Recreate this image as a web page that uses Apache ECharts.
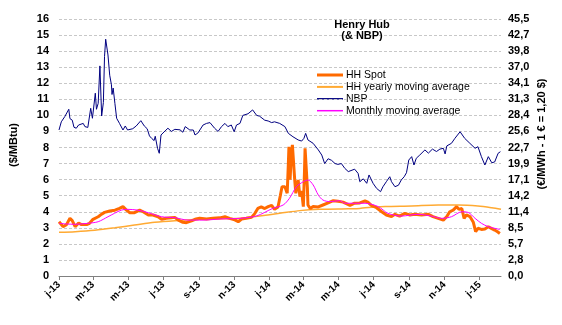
<!DOCTYPE html>
<html>
<head>
<meta charset="utf-8">
<script src="https://cdn.jsdelivr.net/npm/echarts@6/dist/echarts.min.js"></script>
<style>html,body{margin:0;padding:0;background:#fff}#c{width:562px;height:325px}</style>
</head>
<body>
<div id="c"></div>
<script>
// x values are days since 2013-01-01
const monthTickDays = [0, 59, 120, 181, 243, 304, 365, 424, 485, 546, 608, 669, 730];
const monthTickLabels = ['j-13','m-13','m-13','j-13','s-13','n-13','j-14','m-14','m-14','j-14','s-14','n-14','j-15'];
const rightTickLabels = ['0,0','2,8','5,7','8,5','11,4','14,2','17,1','19,9','22,7','25,6','28,4','31,3','34,1','37,0','39,8','42,7','45,5'];
const seriesNames = ['HH Spot', 'HH yearly moving average', 'NBP', 'Monthly moving average'];

const nbpDays = [0,4,10,13,17,19,23,26,30,34,42,45,50,55,58,60,63,65,68,71,74,77,79,81,85,88,91,92,94,97,100,105,111,115,119,128,134,142,148,153,157,161,165,167,171,174,177,184,189,195,201,210,215,219,227,233,236,241,250,256,262,270,276,282,288,293,299,304,308,314,319,328,336,343,348,357,363,369,374,383,392,398,406,415,421,425,428,432,441,450,456,461,467,473,479,484,490,496,502,505,513,519,522,528,534,538,545,551,558,562,568,574,577,583,589,594,599,603,607,612,616,620,626,635,641,648,655,661,667,670,673,681,687,696,704,713,722,727,733,739,745,751,756,762,766];
const nbpValues = [9.09,9.6,9.92,9.8,10.38,9.8,9.7,9.26,9.2,9.4,9.5,9.3,9.25,10.44,9.82,9.7,11.38,10.38,10.75,13.08,9.96,10.8,13.66,14.74,13.76,12.5,11.9,11.3,11.7,10.75,9.82,9.5,9.09,9.34,9.09,9.17,9.34,9.67,9.34,9.17,8.72,8.56,8.43,8.7,7.95,7.64,8.78,9.03,9.2,9.0,9.13,9.1,8.95,9.3,9.09,9.09,8.78,8.9,9.4,9.5,9.55,9.2,9.0,9.3,9.5,9.3,9.4,8.98,9.4,9.5,10.0,10.1,10.34,10.0,9.95,9.7,9.65,9.55,9.6,9.5,9.3,8.88,8.67,8.47,8.4,8.57,8.88,8.47,8.26,7.85,7.53,7.0,7.3,7.2,7.0,6.95,7.0,6.7,6.5,6.6,6.65,6.39,5.87,6.05,5.77,6.29,5.77,5.46,5.25,5.55,5.87,6.18,5.87,5.56,5.65,5.98,6.18,6.43,7.22,7.43,6.91,7.33,7.53,7.85,7.65,7.9,7.75,7.9,7.95,7.6,8.1,8.26,8.57,8.98,8.57,8.26,7.95,8.05,7.43,6.91,7.43,7.05,7.1,7.64,7.74];

const hhDays = [0,3,7,13,19,23,28,34,39,48,53,59,68,74,79,88,97,105,111,117,123,131,140,146,155,163,172,178,186,195,201,207,215,221,230,236,244,256,267,279,288,296,305,311,317,325,334,340,345,351,357,363,369,374,380,384,387,392,396,398,399,401,403,405,407,409,411,415,418,421,424,426,427,429,431,432,436,441,450,458,467,476,484,493,496,505,513,522,531,536,542,551,560,568,577,583,591,600,609,617,629,641,649,658,667,673,678,684,690,694,699,703,707,713,719,723,727,733,739,745,751,756,761,765];
const hhValues = [3.38,3.25,3.07,3.2,3.59,3.45,3.07,3.3,3.2,3.2,3.28,3.53,3.69,3.85,3.96,4.05,4.1,4.21,4.32,4.1,3.94,3.94,4.1,4.0,3.8,3.8,3.69,3.53,3.6,3.63,3.65,3.48,3.34,3.32,3.43,3.53,3.59,3.55,3.59,3.62,3.69,3.59,3.49,3.38,3.55,3.59,3.65,3.9,4.21,4.3,4.2,4.32,4.4,4.15,4.3,5.0,5.56,5.56,5.15,7.0,8.05,6.0,7.5,8.16,8.05,6.0,5.15,5.98,4.94,5.3,4.32,6.5,7.95,7.9,5.5,4.42,4.2,4.32,4.3,4.42,4.55,4.69,4.65,4.6,4.53,4.4,4.53,4.55,4.67,4.6,4.4,4.25,4.0,3.8,3.7,3.84,3.73,3.9,3.8,3.84,3.8,3.84,3.7,3.59,3.48,3.7,4.0,4.1,4.32,4.15,4.2,3.59,3.8,3.7,3.34,2.76,2.97,2.9,2.93,3.07,2.95,2.86,2.75,2.65];

const yearlyDays = [0,28,62,97,131,166,201,250,314,348,383,418,452,502,522,531,566,612,658,693,727,751,767];
const yearlyValues = [2.72,2.76,2.85,3.0,3.17,3.34,3.44,3.53,3.59,3.74,3.9,4.07,4.15,4.19,4.21,4.25,4.32,4.36,4.42,4.42,4.36,4.25,4.15];

const monthlyDays = [0,13,28,50,68,85,108,119,137,155,178,201,224,250,280,314,343,371,389,400,412,424,432,441,450,458,470,487,496,531,554,571,594,623,646,664,681,699,710,722,733,745,756,765];
const monthlyValues = [3.28,3.24,3.22,3.28,3.38,3.69,4.1,4.15,4.1,3.94,3.69,3.63,3.48,3.48,3.55,3.59,3.74,4.21,4.42,4.84,5.56,5.87,5.98,5.67,5.04,4.73,4.63,4.69,4.53,4.53,4.32,3.9,3.73,3.84,3.73,3.59,3.69,4.0,3.96,3.59,3.28,3.07,2.97,2.9];

function pairs(xs, ys) { return xs.map((x, i) => [x, ys[i]]); }

const FONT = '"Liberation Sans", Arial, sans-serif';
const styles = {
  'HH Spot': {color: '#FF6A00', width: 3},
  'HH yearly moving average': {color: '#FFAA33', width: 1.5},
  'NBP': {color: '#000080', width: 1},
  'Monthly moving average': {color: '#FF00FF', width: 1}
};

// legend drawn as graphic lines + text
const legendGraphics = [];
seriesNames.forEach((name, i) => {
  const y = 75 + i * 11.9;
  const s = styles[name];
  legendGraphics.push({
    type: 'line', shape: {x1: 317, y1: y, x2: 343, y2: y},
    style: {stroke: s.color, lineWidth: name === 'HH Spot' ? 3 : (name === 'HH yearly moving average' ? 2 : 1.5)}
  });
  legendGraphics.push({
    type: 'text', x: 346, y: y,
    style: {text: name, fontFamily: FONT, fontSize: 10.5, fill: '#000', textAlign: 'left', textVerticalAlign: 'middle'}
  });
});

const chart = echarts.init(document.getElementById('c'), null, {renderer: 'canvas'});
chart.setOption({
  animation: false,
  backgroundColor: '#ffffff',
  grid: {left: 59, right: 61, top: 19, bottom: 49, containLabel: false},
  title: {
    text: 'Henry Hub\n(& NBP)', left: 357, top: 14, textAlign: 'center',
    textStyle: {fontFamily: FONT, fontSize: 11, fontWeight: 'bold', color: '#000', lineHeight: 11}
  },
  xAxis: {
    type: 'value', min: 0, max: 767,
    axisLine: {show: true, lineStyle: {color: '#808080', width: 1}},
    axisTick: {show: true, customValues: monthTickDays, length: 4, lineStyle: {color: '#808080'}},
    axisLabel: {
      customValues: monthTickDays, rotate: 45, margin: 7,
      fontFamily: FONT, fontSize: 10, fontWeight: 'bold', color: '#000',
      formatter: v => { const i = monthTickDays.indexOf(Math.round(v)); return i >= 0 ? monthTickLabels[i] : ''; }
    },
    splitLine: {show: false}
  },
  yAxis: [{
    type: 'value', min: 0, max: 16, interval: 1, position: 'left',
    axisLine: {show: false}, axisTick: {show: false},
    axisLabel: {margin: 10, fontFamily: FONT, fontSize: 11, fontWeight: 'bold', color: '#000'},
    splitLine: {show: true, lineStyle: {color: '#C8C8C8', type: [3, 2], width: 1}}
  }, {
    type: 'value', min: 0, max: 45.5, interval: 2.84375, position: 'right',
    axisLine: {show: false}, axisTick: {show: false},
    axisLabel: {margin: 7, fontFamily: FONT, fontSize: 11, fontWeight: 'bold', color: '#000',
      formatter: v => rightTickLabels[Math.round(v / 2.84375)] || ''},
    splitLine: {show: false}
  }],
  graphic: [{
    type: 'text', x: 14, y: 145, rotation: Math.PI / 2,
    style: {text: '($/MBtu)', fontFamily: FONT, fontSize: 11, fontWeight: 'bold', fill: '#000', textAlign: 'center', textVerticalAlign: 'middle'}
  }, {
    type: 'text', x: 542, y: 134, rotation: Math.PI / 2,
    style: {text: '(€/MWh - 1 € = 1,20 $)', fontFamily: FONT, fontSize: 11, fontWeight: 'bold', fill: '#000', textAlign: 'center', textVerticalAlign: 'middle'}
  }].concat(legendGraphics),
  series: [{
    name: 'NBP', type: 'line', data: pairs(nbpDays, nbpValues), symbol: 'none', z: 2,
    lineStyle: {color: styles['NBP'].color, width: styles['NBP'].width}
  }, {
    name: 'HH yearly moving average', type: 'line', data: pairs(yearlyDays, yearlyValues), symbol: 'none', smooth: 0.3, z: 3,
    lineStyle: {color: styles['HH yearly moving average'].color, width: styles['HH yearly moving average'].width}
  }, {
    name: 'HH Spot', type: 'line', data: pairs(hhDays, hhValues), symbol: 'none', z: 4,
    lineStyle: {color: styles['HH Spot'].color, width: styles['HH Spot'].width}
  }, {
    name: 'Monthly moving average', type: 'line', data: pairs(monthlyDays, monthlyValues), symbol: 'none', smooth: 0.3, z: 5,
    lineStyle: {color: styles['Monthly moving average'].color, width: styles['Monthly moving average'].width}
  }]
});
</script>
</body>
</html>
